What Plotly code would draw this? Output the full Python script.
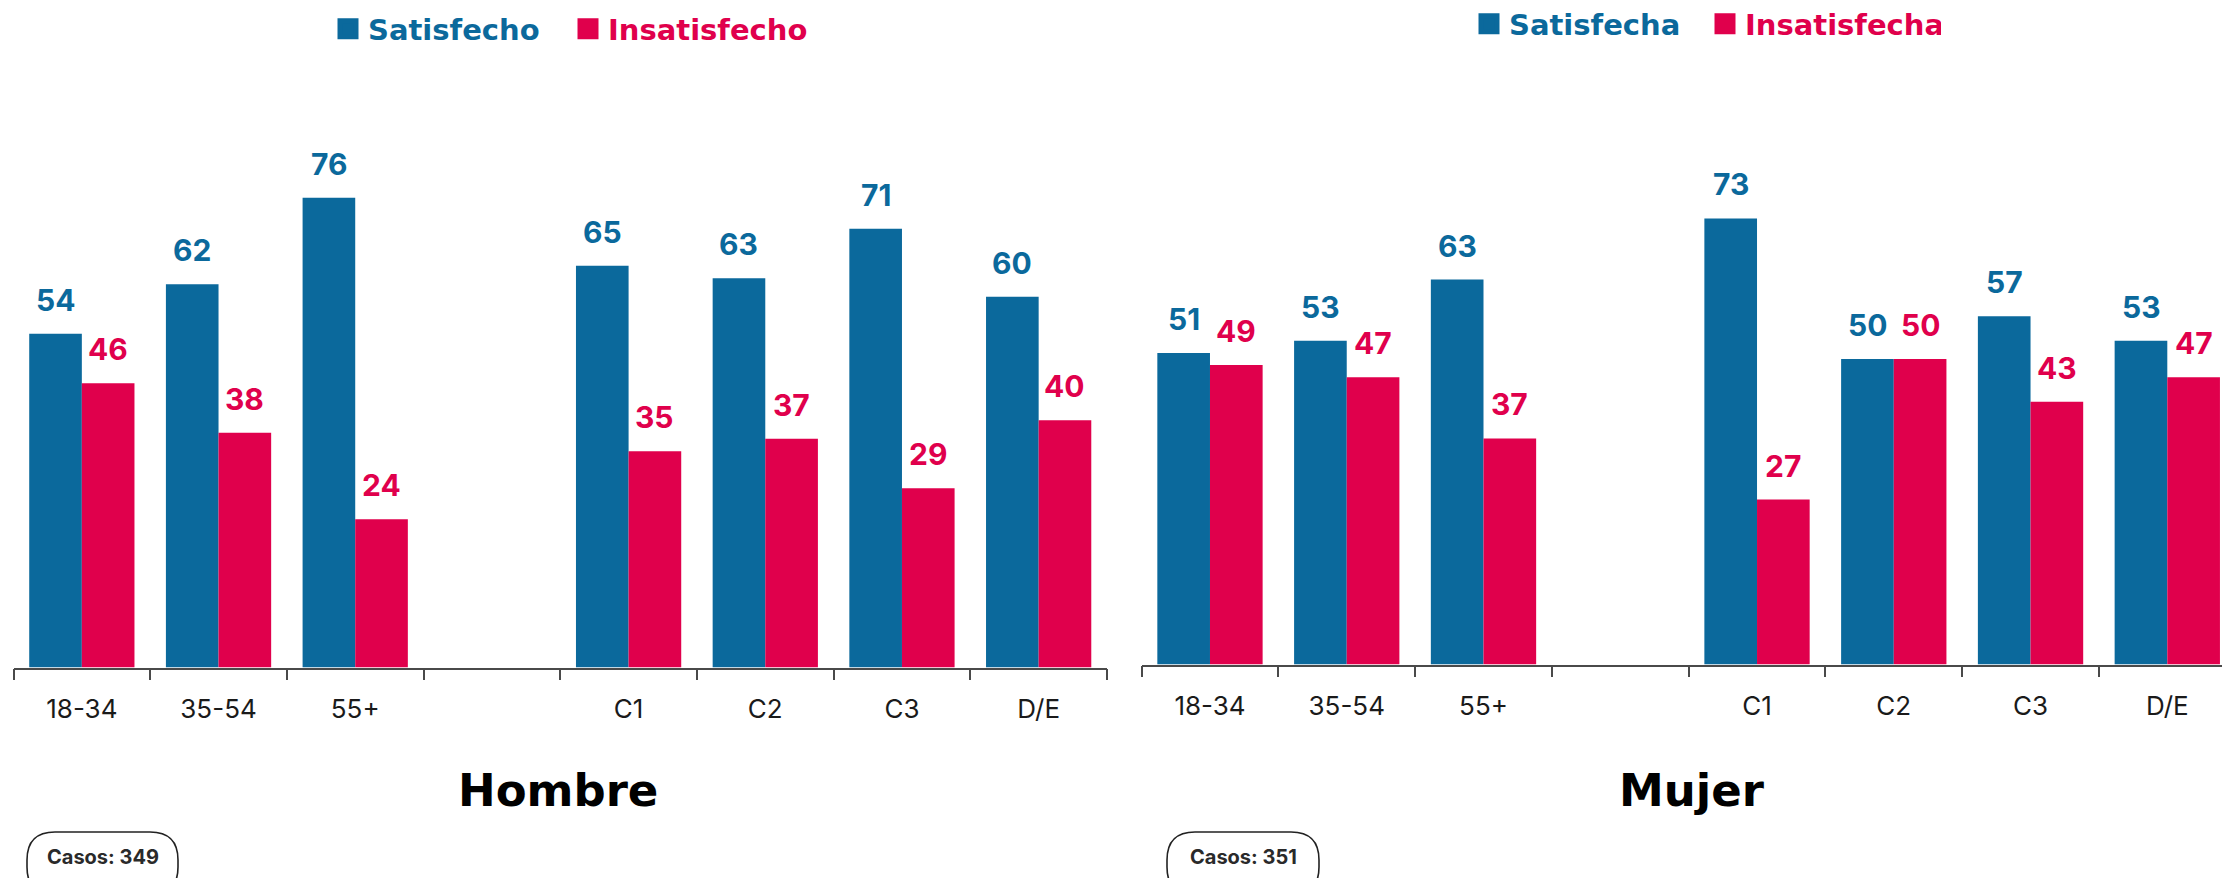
import plotly.graph_objects as go

# ---------------- data ----------------
categories = ["18-34", "35-54", "55+", " ", "C1", "C2", "C3", "D/E"]
hombre_satisfecho = [54, 62, 76, None, 65, 63, 71, 60]
hombre_insatisfecho = [46, 38, 24, None, 35, 37, 29, 40]
mujer_satisfecha = [51, 53, 63, None, 73, 50, 57, 53]
mujer_insatisfecha = [49, 47, 37, None, 27, 50, 43, 47]
panel_titles = ["Hombre", "Mujer"]
casos = [349, 351]
legend_hombre = ["Satisfecho", "Insatisfecho"]
legend_mujer = ["Satisfecha", "Insatisfecha"]

# ---------------- style ----------------
W, H = 2222, 878
BLUE = "#0b699c"
RED = "#e0004c"
FONT = "Inter, 'Open Sans', sans-serif"
FONT_WIDE = "'DejaVu Sans', Inter, sans-serif"
AXIS = "#4a4a4a"


def X(p):
    return p / W


def Y(p):
    return 1 - p / H


fig = go.Figure()

panels = [
    dict(xa="x", ya="y", lg="legend", names=legend_hombre,
         s=hombre_satisfecho, i=hombre_insatisfecho),
    dict(xa="x2", ya="y2", lg="legend2", names=legend_mujer,
         s=mujer_satisfecha, i=mujer_insatisfecha),
]

annotations = []
BAR_HALF = 26.3
for p in panels:
    for vals, col, nm, off in [(p["s"], BLUE, p["names"][0], -BAR_HALF),
                               (p["i"], RED, p["names"][1], BAR_HALF)]:
        fig.add_trace(go.Bar(
            x=categories, y=vals, marker_color=col, marker_line_width=0,
            xaxis=p["xa"], yaxis=p["ya"], showlegend=False, hoverinfo="skip",
        ))
        # legend entry (larger square symbol)
        fig.add_trace(go.Scatter(
            x=[None], y=[None], mode="markers", xaxis=p["xa"], yaxis=p["ya"],
            marker=dict(symbol="square", size=16, color=col,
                        line=dict(color=col, width=5)),
            name=f'<span style="color:{col}">{nm}</span>',
            legend=p["lg"], hoverinfo="skip",
        ))
        for c, v in zip(categories, vals):
            if v is None:
                continue
            annotations.append(dict(
                x=c, y=v, xref=p["xa"], yref=p["ya"], text=str(v),
                showarrow=False, yanchor="bottom", xanchor="center",
                xshift=off, yshift=14,
                font=dict(family=FONT, size=30, color=col, weight="bold"),
            ))

# panel titles
for txt, cx in zip(panel_titles, [558, 1692]):
    annotations.append(dict(
        x=X(cx), y=Y(790), xref="paper", yref="paper", text=txt,
        showarrow=False, xanchor="center", yanchor="middle",
        font=dict(family=FONT_WIDE, size=45, color="#000000", weight="bold"),
    ))

# "Casos" pills
shapes = []
pill_boxes = [(27, 178), (1167, 1319)]
for n, (x0, x1) in zip(casos, pill_boxes):
    y0, y1, r = 832, 895, 28
    path = (f"M {X(x0 + r)},{Y(y0)} L {X(x1 - r)},{Y(y0)} "
            f"Q {X(x1)},{Y(y0)} {X(x1)},{Y(y0 + r)} L {X(x1)},{Y(y1 - r)} "
            f"Q {X(x1)},{Y(y1)} {X(x1 - r)},{Y(y1)} L {X(x0 + r)},{Y(y1)} "
            f"Q {X(x0)},{Y(y1)} {X(x0)},{Y(y1 - r)} L {X(x0)},{Y(y0 + r)} "
            f"Q {X(x0)},{Y(y0)} {X(x0 + r)},{Y(y0)} Z")
    shapes.append(dict(type="path", path=path, xref="paper", yref="paper",
                       line=dict(color="#222222", width=1.6),
                       fillcolor="rgba(0,0,0,0)"))
    annotations.append(dict(
        x=X((x0 + x1) / 2), y=Y(857), xref="paper", yref="paper",
        text=f"Casos: {n}", showarrow=False, xanchor="center", yanchor="middle",
        font=dict(family=FONT, size=20, color="#2a2a2a", weight=700),
    ))

xaxis_common = dict(
    type="category", showline=True, linecolor=AXIS, linewidth=1.5,
    ticks="outside", tickson="boundaries", ticklen=11, tickwidth=1.5,
    tickcolor=AXIS, showgrid=False, zeroline=False, fixedrange=True,
    tickfont=dict(family=FONT, size=26, color="#1a1a1a"),
    ticklabelstandoff=18,
)
yaxis_common = dict(range=[0, 100], visible=False, fixedrange=True)

legend_common = dict(
    orientation="h", yanchor="middle", xanchor="left",
    font=dict(family=FONT_WIDE, size=29, weight="bold"),
    bgcolor="rgba(0,0,0,0)", itemclick=False, itemdoubleclick=False,
    entrywidthmode="pixels",
)

fig.update_layout(
    width=W, height=H,
    margin=dict(l=0, r=0, t=0, b=0, autoexpand=False),
    paper_bgcolor="white", plot_bgcolor="white",
    barmode="group", bargap=0.23, bargroupgap=0,
    xaxis=dict(**xaxis_common, domain=[X(13.5), X(1107)], range=[-0.5, 7.5],
               anchor="y"),
    yaxis=dict(**yaxis_common, domain=[Y(667.5), Y(667.5 - 618)], anchor="x"),
    xaxis2=dict(**xaxis_common, domain=[X(1141.6), 1.0], range=[-0.5, 7.40],
                anchor="y2"),
    yaxis2=dict(**yaxis_common, domain=[Y(664.5), Y(664.5 - 611)], anchor="x2"),
    legend=dict(**legend_common, x=X(328), y=Y(29), entrywidth=195),
    legend2=dict(**legend_common, x=X(1469), y=Y(24), entrywidth=191),
    annotations=annotations,
    shapes=shapes,
    showlegend=True,
)

fig.write_html("out.html", config={"displayModeBar": False},
               post_script="document.body.style.margin='0';")
